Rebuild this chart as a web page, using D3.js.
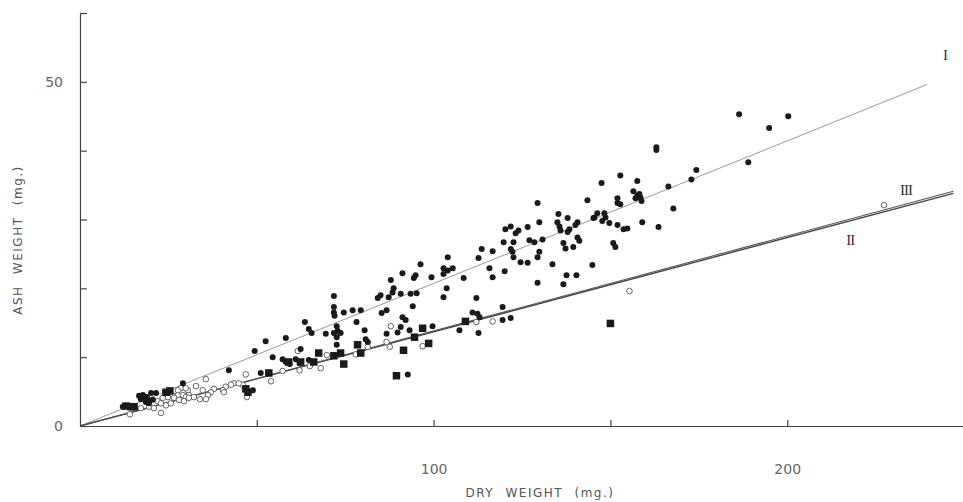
<!DOCTYPE html>
<html>
<head>
<meta charset="utf-8">
<script src="https://cdn.jsdelivr.net/npm/d3@7"></script>
<style>
  body { margin: 0; background: #fff; }
  svg { display: block; }
</style>
</head>
<body>
<div id="chart"></div>
<script>
// filled circles
const seriesI = [
  [186.4,45.3],[200.3,45.0],[194.9,43.3],[163.0,40.5],[163.0,40.1],[189.0,38.3],[174.3,37.2],[172.9,35.8],
  [166.4,34.8],[157.6,35.6],[152.8,36.4],[156.5,34.1],[157.6,33.5],[158.5,33.2],[157.1,33.1],[158.8,32.7],
  [158.2,33.7],[167.8,31.6],[152.8,32.2],[159.0,29.6],[163.6,28.9],[153.7,28.6],[154.8,28.7],[147.5,35.3],
  [129.4,32.4],[143.5,32.8],[152.0,33.1],[152.0,32.4],[135.3,30.8],[135.0,29.6],[135.6,29.0],[135.9,28.4],
  [137.9,30.2],[140.7,29.6],[140.1,29.2],[138.4,28.6],[137.9,28.2],[145.5,30.3],[146.3,30.9],[145.2,30.2],
  [148.3,30.9],[148.6,30.3],[147.7,29.8],[149.7,29.5],[152.0,29.2],[126.6,28.9],[129.9,29.6],[127.1,27.0],
  [128.5,26.7],[130.8,27.1],[140.7,27.4],[141.2,26.9],[136.7,26.6],[137.3,25.8],[139.5,26.0],[150.8,26.6],
  [151.4,26.0],[129.9,25.3],[129.4,24.5],[126.6,23.7],[133.6,23.5],[144.9,23.4],
  [120.3,28.6],[121.8,29.0],[124.0,28.4],[123.2,28.0],[119.8,26.7],[122.6,26.7],[121.8,25.7],[122.3,25.3],
  [122.6,24.5],[124.6,23.8],
  [113.6,25.7],[112.7,24.4],[116.7,25.4],[115.8,22.9],[116.7,21.6],[120.1,22.5],[108.5,21.5],[105.4,22.9],
  [129.4,20.8],[137.6,21.9],[140.4,21.9],[136.7,20.6],
  [112.1,18.6],[119.5,17.3],[111.0,16.5],[112.4,16.3],[113.0,15.8],[119.5,15.4],[121.8,15.7],
  [104.0,24.5],[96.3,23.5],[102.8,22.9],[104.0,22.6],[102.8,22.1],[94.9,21.9],[94.4,21.5],[91.2,22.2],
  [99.4,21.6],[103.7,20.0],[90.7,19.2],[93.5,19.2],[95.2,19.3],[102.8,18.7],[94.1,17.4],[91.2,15.8],
  [92.1,15.4],[90.7,14.4],[93.2,13.9],[99.7,14.5],[107.3,13.9],[112.7,13.5],
  [87.9,21.2],[88.7,20.0],[88.4,19.4],[85.0,19.0],[84.2,18.6],[87.3,18.7],
  [71.8,18.9],[71.8,17.3],[71.8,16.5],[72.0,16.0],[74.6,16.5],[77.1,16.8],[79.4,16.8],[85.3,16.4],[86.7,16.8],
  [63.6,15.1],[64.7,14.1],[65.5,13.5],[78.2,15.1],[52.5,12.3],[58.2,12.8],[69.5,13.4],[72.6,14.5],
  [72.9,13.8],[71.8,13.5],[73.7,13.5],[72.6,12.9],[80.5,13.9],[80.8,12.6],[81.4,12.2],[72.6,11.8],
  [86.7,13.4],[89.8,13.6],
  [42.1,8.1],[49.4,10.9],[54.5,10.0],[57.3,9.7],[58.2,9.3],[59.3,9.0],[61.0,9.7],[62.1,9.1],[51.1,7.7],
  [64.7,9.6],[62.4,11.2],[29.1,6.2],[48.9,5.2],[92.7,7.5],
  [20.1,4.8],[21.5,4.8],[16.7,4.4],[17.8,4.5],[17.2,3.9],[18.1,4.1],[18.9,4.2],[19.2,3.8],[18.6,3.5],
  [19.5,3.3],[20.6,3.8],[12.1,2.8]
];

// filled squares
const seriesII = [
  [109.0,15.2],[96.9,14.2],[94.6,12.9],[98.6,12.0],[91.5,11.0],[89.5,7.3],[78.5,11.8],[79.4,10.6],
  [73.7,10.6],[71.8,10.2],[67.5,10.6],[66.1,9.3],[74.6,9.0],[62.4,9.3],[59.0,9.3],[53.4,7.7],
  [46.9,5.4],[47.5,4.9],[24.3,4.9],[25.4,5.1],[150.0,14.9],[13.0,2.9],[14.4,2.8],[15.3,2.8],[17.8,4.1]
];

// open circles
const seriesIII = [
  [227.4,32.1],[155.4,19.6],[112.1,15.1],[116.7,15.2],[87.9,14.5],[86.7,12.2],[87.6,11.5],[81.4,11.5],
  [69.8,10.3],[78.0,10.4],[68.1,8.4],[65.0,8.7],[62.1,8.1],[57.3,8.0],[54.0,6.5],[46.9,7.5],[47.2,4.2],
  [96.9,11.6],[43.5,6.2],[42.7,6.0],[41.2,5.7],[40.4,5.2],[46.0,6.0],[44.9,6.2],[37.9,5.4],[37.0,4.9],
  [36.2,4.5],[35.6,3.9],[33.9,3.9],[40.7,4.9],[35.6,6.8],[32.8,5.8],[30.5,5.2],[30.8,4.5],[29.4,3.8],
  [32.2,4.2],[34.7,5.2],[23.4,4.1],[24.9,4.2],[26.3,4.4],[27.7,4.5],[29.1,4.5],[29.9,4.2],[26.6,4.1],
  [28.0,3.8],[29.4,3.6],[30.8,4.1],[22.0,3.6],[22.9,3.3],[24.3,3.0],[25.7,3.3],[19.5,2.8],[20.9,2.6],
  [17.2,2.6],[14.1,1.7],[22.9,1.9],[28.5,5.5],[27.7,5.2],[29.9,5.5],[61.6,10.9]
];

// fitted lines through the origin
const lineNames = ["I", "II", "III"];
const lineEndX = [239.5, 247, 247];
const lineEndY = [49.6, 33.8, 34.1];

const xTicks = [50, 100, 150, 200];
const xLabels = [100, 200];
const yTicks = [0, 10, 20, 30, 40, 50, 60];
const yLabels = [0, 50];

let width = 963, height = 502;
let margin = { top: 13, right: 0, bottom: 76, left: 80 };

let svg = d3.select("#chart")
  .append("svg")
  .attr("width", width)
  .attr("height", height);

let x = d3.scaleLinear().domain([0, 250]).range([margin.left, width - margin.right + 1]);
let y = d3.scaleLinear().domain([0, 60]).range([height - margin.bottom, margin.top]);

// axes
svg.append("g")
  .attr("transform", "translate(0," + y(0) + ")")
  .call(d3.axisBottom(x).tickValues(xTicks).tickSizeInner(-6).tickSizeOuter(0).tickPadding(38)
    .tickFormat(d => xLabels.includes(d) ? d : ""));

svg.append("g")
  .attr("transform", "translate(" + x(0) + ",0)")
  .call(d3.axisLeft(y).tickValues(yTicks).tickSizeInner(-7).tickSizeOuter(0).tickPadding(17)
    .tickFormat(d => yLabels.includes(d) ? d : ""));

svg.selectAll(".domain, .tick line").attr("stroke", "#444").attr("stroke-width", 1.2);
svg.selectAll(".tick text")
  .attr("fill", "#666")
  .style("font-family", "'DejaVu Sans', sans-serif")
  .style("font-size", "14px");

// axis titles
svg.append("text")
  .attr("x", 540).attr("y", 497)
  .attr("text-anchor", "middle")
  .attr("fill", "#555")
  .style("font-family", "'DejaVu Sans', sans-serif")
  .style("font-size", "12px")
  .style("letter-spacing", "1.5px")
  .style("word-spacing", "6px")
  .text("DRY WEIGHT (mg.)");

svg.append("text")
  .attr("transform", "translate(22,240) rotate(-90)")
  .attr("text-anchor", "middle")
  .attr("fill", "#555")
  .style("font-family", "'DejaVu Sans', sans-serif")
  .style("font-size", "12px")
  .style("letter-spacing", "1.5px")
  .style("word-spacing", "6px")
  .text("ASH WEIGHT (mg.)");

// fitted lines
let lineColors = ["#999", "#444", "#555"];
let lineWidths = [1, 1.4, 1.1];
lineNames.forEach(function (n, i) {
  svg.append("line")
    .attr("x1", x(0)).attr("y1", y(0))
    .attr("x2", x(lineEndX[i])).attr("y2", y(lineEndY[i]))
    .attr("stroke", lineColors[i])
    .attr("stroke-width", lineWidths[i]);
});

// line labels
let labelPos = [[244.6, 53.6], [217.8, 26.8], [233.6, 34.1]];
svg.selectAll(".lbl")
  .data(lineNames)
  .enter()
  .append("text")
  .attr("x", (d, i) => x(labelPos[i][0]))
  .attr("y", (d, i) => y(labelPos[i][1]))
  .attr("text-anchor", "middle")
  .attr("dominant-baseline", "middle")
  .attr("fill", "#333")
  .style("font-family", "'Liberation Serif', serif")
  .style("font-size", "15px")
  .style("letter-spacing", "-1px")
  .text(d => d);

// points
svg.append("g")
  .selectAll("circle")
  .data(seriesIII)
  .enter()
  .append("circle")
  .attr("cx", d => x(d[0]))
  .attr("cy", d => y(d[1]))
  .attr("r", 2.8)
  .attr("fill", "#fff")
  .attr("stroke", "#555")
  .attr("stroke-width", 0.9);

svg.append("g")
  .selectAll("rect")
  .data(seriesII)
  .enter()
  .append("rect")
  .attr("x", d => x(d[0]) - 3.75)
  .attr("y", d => y(d[1]) - 3.75)
  .attr("width", 7.5)
  .attr("height", 7.5)
  .attr("fill", "#1a1a1a");

svg.append("g")
  .selectAll("circle")
  .data(seriesI)
  .enter()
  .append("circle")
  .attr("cx", d => x(d[0]))
  .attr("cy", d => y(d[1]))
  .attr("r", 3)
  .attr("fill", "#1a1a1a");
</script>
</body>
</html>
